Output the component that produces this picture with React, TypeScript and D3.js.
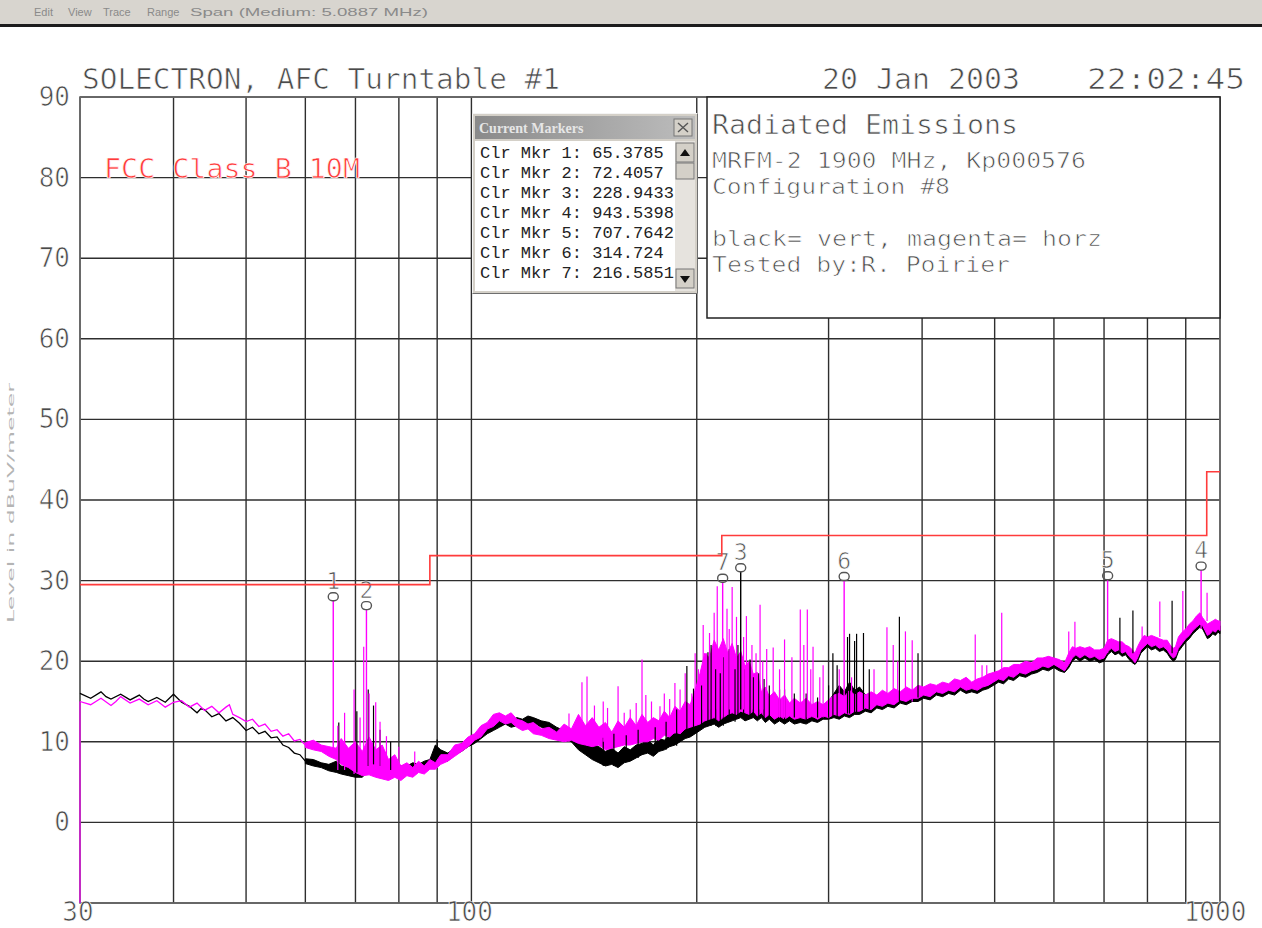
import * as d3 from "d3";

// ---- axes ----
const FREQ_GRID = [30, 40, 50, 60, 70, 80, 90, 100, 200, 300, 400, 500, 600, 700, 800, 900, 1000];
const DB_GRID = [-10, 0, 10, 20, 30, 40, 50, 60, 70, 80, 90];
const Y_LABELS = [0, 10, 20, 30, 40, 50, 60, 70, 80, 90];
const X_LABELS = [30, 100, 1000];

// ---- FCC Class B 10m limit (MHz edges, dBuV/m) ----
const LIMIT_EDGES = [30, 88, 216, 960, 1000];
const LIMIT_LEVELS = [29.5, 33.1, 35.6, 43.5, 43.5];

// ---- vertical polarisation (black) ----
const VERT_LOW: number[][] = [
  [30, 16.0], [31, 15.4], [32, 16.2], [32.5, 15.6], [33, 15.3], [34, 15.9], [35, 15.2], [36, 15.8],
  [36.5, 15.3], [37, 15.0], [38, 15.5], [39, 14.9], [40, 15.9], [40.5, 15.4], [41, 14.9], [42, 14.4],
  [43, 13.6], [43.5, 14.1], [44, 14.0], [45, 13.1], [46, 13.5], [47, 12.6], [48, 13.0], [49, 12.3],
  [50, 11.4], [51, 11.8], [52, 11.0], [53, 11.3], [54, 10.5], [55, 10.6], [56, 9.6], [57, 9.3],
  [58, 8.6], [59, 8.4], [60, 7.6],
];
// [MHz, low dB, high dB] of the noise band
const VERT_BAND: number[][] = [
  [60, 7.3, 7.9], [61.5, 7.0, 7.8], [63, 6.8, 7.4], [64.5, 6.4, 7.2], [66, 6.2, 7.6], [67, 6.0, 7.0],
  [68.5, 5.8, 6.8], [70, 5.6, 6.6], [71.5, 5.6, 8.4], [73, 6.6, 9.8], [74.5, 6.4, 8.6], [76, 6.8, 8.2],
  [77.5, 6.2, 7.6], [79, 6.4, 7.2], [80.5, 6.0, 7.0], [82, 6.4, 7.0], [83.5, 6.0, 7.4], [85, 6.6, 7.2],
  [86.5, 6.4, 7.6], [88, 7.0, 7.8], [89.5, 7.4, 9.6], [91, 7.8, 9.0], [93, 7.6, 8.6], [95, 8.4, 9.2],
  [97, 8.8, 9.8], [99, 9.4, 10.4], [101, 9.8, 10.8], [103, 10.4, 11.4], [105, 11.0, 12.0],
  [107, 11.4, 12.6], [109, 11.8, 12.8], [111, 12.2, 13.0], [113, 11.8, 12.6], [115, 12.0, 13.0],
  [117, 11.6, 12.8], [119, 12.2, 13.2], [121, 12.4, 13.0], [124, 11.8, 12.6], [127, 11.4, 12.4],
  [130, 11.0, 11.8], [133, 10.6, 11.4], [136, 10.0, 11.2], [139, 9.0, 10.6], [142, 8.4, 10.2],
  [145, 7.8, 9.8], [148, 7.4, 9.4], [151, 7.0, 8.8], [154, 7.2, 9.2], [157, 6.8, 8.6], [160, 7.4, 9.4],
  [163, 7.6, 9.0], [166, 8.0, 9.6], [169, 8.4, 9.8], [172, 8.6, 10.2], [175, 8.2, 9.6], [178, 8.8, 10.4],
  [181, 9.0, 10.2], [184, 9.4, 10.8], [187, 9.6, 11.2], [190, 10.0, 11.4], [193, 10.4, 12.0],
  [196, 10.6, 12.8], [199, 11.0, 13.6], [202, 11.4, 16.0], [205, 11.8, 17.8], [208, 12.0, 17.0],
  [211, 12.2, 18.8], [214, 11.8, 17.4], [217, 12.2, 19.0], [220, 12.4, 17.2], [223, 12.6, 18.6],
  [226, 12.8, 17.0], [229, 13.0, 19.2], [232, 12.6, 16.6], [235, 12.8, 17.6], [238, 13.0, 15.8],
  [241, 12.6, 16.4], [244, 13.0, 14.8], [247, 12.4, 15.4], [250, 12.8, 14.6], [254, 12.2, 15.0],
  [258, 12.6, 14.4], [262, 12.2, 14.8], [266, 12.6, 14.2], [270, 12.2, 14.6], [275, 12.4, 14.0],
  [280, 12.2, 14.6], [285, 12.6, 14.0], [290, 12.4, 14.4], [295, 12.8, 14.2], [300, 12.8, 15.0],
  [305, 13.0, 16.0], [310, 12.8, 17.0], [315, 13.2, 16.2], [320, 13.0, 17.4], [325, 13.4, 16.4],
  [330, 13.4, 16.8], [336, 13.8, 15.8], [342, 13.6, 16.0], [348, 14.2, 15.4], [354, 14.0, 15.8],
  [360, 14.4, 15.6], [367, 14.2, 16.0], [374, 14.8, 15.8], [381, 14.6, 16.2], [388, 15.0, 15.8],
  [395, 15.0, 16.4], [402, 15.4, 16.2], [410, 15.2, 16.6], [418, 15.8, 16.4], [426, 15.6, 16.8],
  [434, 16.0, 16.6], [442, 15.8, 17.2], [450, 16.4, 17.0], [458, 16.0, 17.4], [466, 16.2, 16.8],
  [474, 16.0, 17.2], [482, 16.4, 17.4], [490, 16.6, 17.8], [498, 17.0, 18.0], [506, 17.4, 18.2],
  [514, 17.2, 18.6], [522, 17.8, 18.6], [530, 17.6, 19.0], [540, 18.2, 19.0], [550, 18.0, 19.4],
  [560, 18.4, 19.2], [570, 18.6, 19.8], [580, 19.0, 19.8], [590, 18.8, 20.0], [600, 19.2, 19.8],
  [610, 18.8, 19.6], [620, 18.6, 19.4], [628, 19.2, 20.4], [635, 20.0, 21.2], [642, 20.4, 21.0],
  [650, 20.0, 21.2], [660, 20.4, 21.0], [670, 20.0, 21.2], [680, 20.2, 20.8], [690, 19.8, 20.8],
  [700, 20.0, 21.0], [708, 20.8, 22.0], [716, 21.2, 22.2], [724, 20.8, 22.0], [732, 21.0, 21.8],
  [740, 20.6, 21.8], [748, 20.8, 21.4], [756, 20.2, 21.2], [764, 19.8, 20.8], [770, 19.6, 20.6],
  [776, 20.0, 21.2], [784, 21.0, 22.0], [792, 21.4, 22.6], [800, 21.8, 22.4], [810, 21.4, 22.6],
  [820, 21.6, 22.4], [830, 21.2, 22.2], [840, 21.4, 22.0], [850, 21.0, 22.0], [858, 20.4, 21.4],
  [866, 20.0, 21.0], [872, 20.2, 21.2], [880, 21.2, 22.4], [890, 21.8, 23.0], [900, 22.4, 23.4],
  [910, 22.8, 24.0], [920, 23.4, 24.4], [930, 23.8, 25.0], [940, 24.2, 25.4], [948, 24.0, 24.8],
  [955, 23.4, 24.4], [962, 22.8, 24.0], [970, 23.0, 24.2], [978, 23.4, 24.4], [986, 23.2, 24.6],
  [994, 23.6, 24.4], [1000, 23.4, 24.4],
];
// [MHz, from dB, to dB]
const VERT_SPIKES: number[][] = [
  [66.5, 6.5, 12.4], [70.3, 6.2, 13.8], [72.8, 7.0, 16.5], [74, 7.2, 14.5], [75.5, 7.0, 11.5],
  [78, 6.5, 10.0], [90, 8.0, 10.3], [150, 7.0, 10.5], [155, 7.0, 11.0], [161, 7.5, 10.8],
  [167, 8.0, 11.5], [176, 8.5, 11.8], [182, 9.0, 12.5], [188, 9.5, 14.0], [194, 11.0, 19.4],
  [198, 11.0, 16.6], [203, 12.0, 17.0], [207, 12.0, 21.1], [209, 12.0, 22.0], [212, 12.0, 19.0],
  [215, 12.0, 18.5], [217, 12.0, 20.5], [221, 12.5, 21.5], [225, 12.5, 19.0], [227, 13.0, 22.0],
  [231, 13.0, 19.0], [235.6, 13.0, 20.2], [238, 13.0, 18.0], [242, 13.0, 18.5], [246, 13.0, 17.8],
  [250, 13.0, 17.0], [258, 13.0, 16.5], [262, 12.5, 16.5], [270, 13.0, 16.0], [280, 12.5, 16.0],
  [290, 13.0, 15.5], [300, 13.0, 17.0], [304, 13.0, 21.0], [308, 13.0, 19.5], [318, 13.5, 23.0],
  [320, 13.5, 23.4], [325, 13.5, 22.5], [327, 13.5, 23.4], [334, 14.0, 23.5], [340, 14.0, 19.0],
  [373, 15.0, 25.5], [395, 15.5, 21.0], [735, 21.0, 25.4], [765, 21.0, 26.3], [863, 21.0, 27.5],
];

// ---- horizontal polarisation (magenta) ----
const HORZ_LOW: number[][] = [
  [30, 15.0], [31, 14.6], [32, 15.4], [33, 14.5], [33.5, 15.0], [34, 15.6], [35, 14.8], [36, 15.3],
  [37, 14.6], [38, 15.1], [38.5, 14.7], [39, 14.3], [40, 14.9], [41, 15.1], [42, 14.3], [43, 14.8],
  [44, 13.9], [45, 14.4], [46, 13.6], [47, 14.3], [47.5, 14.6], [48, 13.4], [49, 13.0], [50, 12.5],
  [51, 12.8], [52, 11.9], [53, 12.2], [54, 11.3], [55, 11.5], [56, 10.7], [57, 11.0], [58, 10.1],
  [59, 10.3], [60, 9.6],
];
const HORZ_BAND: number[][] = [
  [60, 9.3, 9.9], [61.5, 9.0, 10.2], [63, 8.8, 9.6], [64.5, 8.2, 9.4], [66, 7.8, 9.2], [67, 7.2, 10.4],
  [68.5, 6.8, 9.2], [70, 6.2, 10.0], [71.5, 5.8, 8.8], [73, 5.9, 10.6], [74.5, 5.6, 9.0], [76, 5.4, 9.6],
  [77.5, 5.2, 7.8], [79, 5.6, 8.4], [80.5, 5.2, 7.0], [82, 5.8, 7.4], [83.5, 5.6, 6.8], [85, 6.2, 7.6],
  [86.5, 6.0, 7.0], [88, 6.6, 7.8], [89.5, 6.6, 7.4], [91, 7.2, 8.4], [93, 7.6, 8.4], [95, 8.2, 9.6],
  [97, 8.8, 9.8], [99, 9.4, 10.6], [101, 10.2, 11.0], [103, 10.6, 12.0], [105, 11.6, 12.4],
  [107, 11.9, 13.4], [109, 12.6, 13.6], [111, 12.2, 13.2], [113, 12.4, 13.6], [115, 11.8, 12.8],
  [117, 11.4, 12.6], [119, 11.6, 12.2], [121, 11.0, 12.4], [124, 10.8, 11.6], [127, 10.4, 11.8],
  [130, 10.2, 11.2], [133, 10.0, 12.2], [136, 10.2, 11.6], [139, 9.8, 13.4], [142, 9.6, 12.0],
  [145, 9.4, 13.0], [148, 9.6, 11.8], [151, 9.0, 12.4], [154, 9.2, 11.2], [157, 9.4, 12.6],
  [160, 9.6, 11.8], [163, 9.6, 13.0], [166, 9.8, 12.0], [169, 10.0, 13.4], [172, 10.0, 12.4],
  [175, 10.4, 13.0], [178, 10.2, 12.6], [181, 10.8, 13.8], [184, 10.6, 13.0], [187, 11.2, 14.4],
  [190, 11.0, 13.8], [193, 11.6, 15.0], [196, 11.8, 14.6], [199, 12.0, 16.4], [202, 12.2, 18.5],
  [205, 12.6, 21.0], [208, 12.8, 20.4], [211, 13.0, 22.6], [214, 12.6, 21.4], [217, 13.0, 22.8],
  [220, 13.4, 21.0], [223, 13.6, 22.2], [226, 13.4, 20.4], [229, 13.8, 21.2], [232, 13.6, 19.4],
  [235, 13.4, 20.0], [238, 13.8, 18.4], [241, 13.2, 18.6], [244, 13.6, 16.2], [247, 13.0, 16.8],
  [250, 13.4, 15.6], [254, 12.8, 16.2], [258, 13.2, 15.2], [262, 12.8, 15.8], [266, 13.2, 14.8],
  [270, 12.8, 15.4], [275, 13.0, 14.8], [280, 12.8, 15.4], [285, 13.2, 14.6], [290, 12.8, 15.0],
  [295, 13.2, 14.6], [300, 13.0, 15.2], [305, 13.4, 15.8], [310, 13.2, 16.0], [315, 13.6, 15.6],
  [320, 13.4, 16.4], [325, 13.8, 15.8], [330, 13.8, 16.2], [336, 14.2, 15.8], [342, 14.0, 16.2],
  [348, 14.6, 15.8], [354, 14.4, 16.4], [360, 14.8, 16.0], [367, 14.6, 16.6], [374, 15.2, 16.2],
  [381, 15.0, 16.8], [388, 15.4, 16.4], [395, 15.4, 17.0], [402, 15.8, 16.8], [410, 15.6, 17.2],
  [418, 16.2, 17.0], [426, 16.0, 17.4], [434, 16.4, 17.2], [442, 16.2, 17.8], [450, 16.8, 17.6],
  [458, 16.4, 18.0], [466, 16.6, 17.4], [474, 16.4, 17.8], [482, 16.8, 18.0], [490, 17.0, 18.4],
  [498, 17.4, 18.6], [506, 17.8, 18.8], [514, 17.6, 19.2], [522, 18.2, 19.2], [530, 18.0, 19.6],
  [540, 18.6, 19.6], [550, 18.4, 20.0], [560, 18.8, 19.8], [570, 19.0, 20.4], [580, 19.4, 20.4],
  [590, 19.2, 20.6], [600, 19.6, 20.4], [610, 19.2, 20.2], [620, 18.8, 19.8], [628, 19.6, 21.0],
  [635, 20.4, 21.8], [642, 20.8, 21.6], [650, 20.4, 21.8], [660, 20.8, 21.6], [670, 20.4, 21.8],
  [680, 20.6, 21.4], [690, 20.2, 21.4], [700, 20.4, 21.6], [708, 21.2, 22.6], [716, 21.6, 22.8],
  [724, 21.2, 22.6], [732, 21.4, 22.4], [740, 21.0, 22.4], [748, 21.2, 22.0], [756, 20.6, 21.8],
  [764, 20.2, 21.4], [770, 19.8, 21.0], [776, 20.4, 21.8], [784, 21.4, 22.6], [792, 21.8, 23.2],
  [800, 22.2, 23.0], [810, 21.8, 23.2], [820, 22.0, 23.0], [830, 21.6, 22.8], [840, 21.8, 22.6],
  [850, 21.4, 22.6], [858, 20.8, 22.0], [866, 20.4, 21.6], [872, 20.6, 21.8], [880, 21.6, 23.0],
  [890, 22.2, 23.6], [900, 22.8, 24.0], [910, 23.2, 24.6], [920, 23.8, 25.0], [930, 24.2, 25.6],
  [940, 24.6, 26.0], [948, 24.4, 25.4], [955, 23.8, 25.0], [962, 23.2, 24.6], [970, 23.4, 24.8],
  [978, 23.8, 25.0], [986, 23.6, 25.2], [994, 24.0, 25.0], [1000, 23.8, 25.0],
];
const HORZ_SPIKES: number[][] = [
  [30, -10, 15.0], [66.3, 6.5, 12.0], [67.7, 6.5, 13.6], [69.7, 6.0, 16.5], [71.0, 6.0, 13.0],
  [71.8, 6.0, 21.8], [73.0, 6.0, 16.0], [74.5, 6.0, 14.9], [75.5, 6.0, 12.5], [77, 5.5, 10.7],
  [80, 5.5, 9.4], [84, 6.0, 8.8], [135, 10.0, 13.5], [140.5, 10.0, 17.4], [142.7, 10.0, 18.1],
  [146, 10.0, 14.5], [150, 10.0, 15.0], [152, 9.5, 14.2], [157, 10.0, 16.9], [160, 9.6, 13.6],
  [163, 10.0, 14.0], [166, 10.0, 14.8], [169, 10.0, 20.2], [171, 10.0, 15.8], [174, 11.0, 15.0],
  [178.6, 11.0, 14.4], [181, 11.0, 16.0], [184, 11.0, 15.3], [187, 11.0, 17.3], [190, 11.0, 16.5],
  [193, 12.0, 18.5], [197, 12.0, 16.0], [199, 12.0, 21.0], [201, 14.0, 19.0], [204, 14.0, 24.5],
  [206, 14.0, 21.0], [208, 14.0, 23.5], [211, 14.0, 26.0], [213, 14.0, 29.3], [219.5, 14.0, 26.5],
  [221, 14.0, 24.0], [223, 14.0, 29.2], [226, 14.0, 25.5], [231, 14.0, 23.0], [233, 14.0, 25.6],
  [237, 14.0, 22.0], [240, 14.0, 21.0], [243, 14.0, 27.0], [245, 14.0, 20.0], [248, 14.0, 21.5],
  [253, 13.0, 21.7], [258, 13.0, 19.0], [262, 13.0, 22.7], [268, 13.0, 20.5], [275, 13.0, 26.4],
  [278, 13.0, 22.0], [281, 13.0, 26.4], [284, 13.0, 19.0], [286, 13.0, 21.8], [292, 13.0, 18.0],
  [295, 13.0, 19.5], [310, 14.0, 19.0], [322, 14.0, 18.0], [345, 15.0, 19.0], [359, 15.0, 24.2],
  [366, 15.0, 22.0], [371, 15.0, 20.0], [380, 15.0, 23.7], [388, 15.0, 22.6], [471, 17.0, 23.3],
  [481, 17.0, 19.5], [488, 17.0, 19.5], [511, 18.0, 26.0], [628, 20.0, 23.7], [640, 21.0, 24.9],
  [787, 22.0, 24.3], [831, 23.0, 27.4], [892, 23.0, 28.7], [961, 25.0, 28.5],
];

// ---- marker list (id, MHz, peak dB, trace floor dB, trace) ----
const MARKER_IDS = [1, 2, 3, 4, 5, 6, 7];
const MARKER_FREQ = [65.3785, 72.4057, 228.9433, 943.5398, 707.7642, 314.724, 216.5851];
const MARKER_PEAK = [28.0, 26.9, 31.6, 31.8, 30.6, 30.5, 30.3];
const MARKER_FLOOR = [8.0, 6.5, 14.0, 24.0, 21.0, 14.0, 13.0];
const MARKER_TRACE = ["horz", "horz", "vert", "horz", "horz", "horz", "horz"];

const INFO_LINES = [
  "Radiated Emissions",
  "MRFM-2 1900 MHz, Kp000576",
  "Configuration #8",
  "black= vert, magenta= horz",
  "Tested by:R. Poirier",
];

const MENU = ["Edit", "View", "Trace", "Range", "Span (Medium: 5.0887 MHz)"];

const MONO = "'DejaVu Sans Mono', monospace";
const INK = "#4a4a4a";
const MAGENTA = "#ff00ff";

// thin the glyph strokes a little so they read like the plotter font
const thin = { stroke: "#fff", strokeWidth: 0.7, paintOrder: "normal" } as const;

export default function App() {
  const x = d3.scaleLog().domain([30, 1000]).range([80, 1220]);
  const y = d3.scaleLinear().domain([-10, 90]).range([903, 97]);

  const line = d3.line<number[]>().x((d) => x(d[0])).y((d) => y(d[1]));
  const band = d3
    .area<number[]>()
    .x((d) => x(d[0]))
    .y0((d) => y(d[1]))
    .y1((d) => y(d[2]));
  const limit = d3
    .line<number>()
    .x((_, i) => x(LIMIT_EDGES[i]))
    .y((d) => y(d))
    .curve(d3.curveStepAfter);

  const colorOf = (t: string) => (t === "vert" ? "#000" : MAGENTA);

  const menuX = [34, 68, 103, 147, 190];
  const infoY = [134, 168, 194, 246, 272];
  const infoW = [306, 374, 238, 390, 298];

  return (
    <svg
      width={1262}
      height={928}
      style={{ position: "absolute", left: 0, top: 0, background: "#fff" }}
    >
      <defs>
        <linearGradient id="tbar" x1="0" x2="1" y1="0" y2="0">
          <stop offset="0" stopColor="#8a8a8a" />
          <stop offset="1" stopColor="#bdbdbd" />
        </linearGradient>
      </defs>
      <rect width={1262} height={928} fill="#fff" />

      {/* menu strip */}
      <rect x={0} y={0} width={1262} height={24} fill="#d8d5cf" />
      <rect x={0} y={24} width={1262} height={3} fill="#1c1c1c" />
      {MENU.map((m, i) => (
        <text
          key={m}
          x={menuX[i]}
          y={16}
          fontFamily="'Liberation Sans', sans-serif"
          fontSize={11}
          fill="#8a8a8a"
          {...(i === 4 ? { textLength: 238, lengthAdjust: "spacingAndGlyphs" } : {})}
        >
          {m}
        </text>
      ))}

      {/* grid */}
      {FREQ_GRID.map((f) => (
        <line key={"vx" + f} x1={x(f)} x2={x(f)} y1={y(90)} y2={y(-10)} stroke="#2e2e2e" strokeWidth={1.4} />
      ))}
      {DB_GRID.map((v) => (
        <line key={"hy" + v} x1={x(30)} x2={x(1000)} y1={y(v)} y2={y(v)} stroke="#2e2e2e" strokeWidth={1.4} />
      ))}
      <rect
        x={x(30)}
        y={y(90)}
        width={x(1000) - x(30)}
        height={y(-10) - y(90)}
        fill="none"
        stroke="#6a6a6a"
        strokeWidth={1.6}
      />

      {/* traces */}
      <path d={line(VERT_LOW)!} fill="none" stroke="#000" strokeWidth={1.3} />
      <path d={band(VERT_BAND)!} fill="#000" stroke="#000" strokeWidth={1} />
      <path d={line(HORZ_LOW)!} fill="none" stroke={MAGENTA} strokeWidth={1.3} />
      <path d={band(HORZ_BAND)!} fill={MAGENTA} stroke={MAGENTA} strokeWidth={1} />
      {VERT_SPIKES.map((s, i) => (
        <line key={"vs" + i} x1={x(s[0])} x2={x(s[0])} y1={y(s[1])} y2={y(s[2])} stroke="#000" strokeWidth={1.2} />
      ))}
      {HORZ_SPIKES.map((s, i) => (
        <line key={"hs" + i} x1={x(s[0])} x2={x(s[0])} y1={y(s[1])} y2={y(s[2])} stroke={MAGENTA} strokeWidth={1.2} />
      ))}

      {/* markers */}
      {MARKER_IDS.map((id, i) => {
        const mx = x(MARKER_FREQ[i]);
        const my = y(MARKER_PEAK[i]);
        return (
          <g key={"m" + id}>
            <line
              x1={mx}
              x2={mx}
              y1={y(MARKER_FLOOR[i])}
              y2={my + 4}
              stroke={colorOf(MARKER_TRACE[i])}
              strokeWidth={1.4}
            />
            <rect x={mx - 5} y={my - 4} width={10} height={8} rx={4} fill="none" stroke="#555" strokeWidth={1.4} />
            <text x={mx} y={my - 8} textAnchor="middle" fontFamily={MONO} fontSize={23} fill="#555" {...thin}>
              {id}
            </text>
          </g>
        );
      })}

      {/* limit line */}
      <path d={limit(LIMIT_LEVELS)!} fill="none" stroke="#ff3b3b" strokeWidth={1.6} />
      <text
        x={104}
        y={178}
        fontFamily={MONO}
        fontSize={26}
        fill="#ff3b3b"
        textLength={256}
        lengthAdjust="spacingAndGlyphs"
        {...thin}
      >
        FCC Class B 10M
      </text>

      {/* axis labels */}
      {Y_LABELS.map((v) => (
        <text
          key={"yl" + v}
          x={70}
          y={y(v) + 9}
          textAnchor="end"
          fontFamily={MONO}
          fontSize={26}
          fill={INK}
          {...thin}
        >
          {v}
        </text>
      ))}
      {X_LABELS.map((f) => (
        <text
          key={"xl" + f}
          x={x(f) - (f === 1000 ? 5 : 2)}
          y={921}
          textAnchor="middle"
          fontFamily={MONO}
          fontSize={26}
          fill={INK}
          {...thin}
        >
          {f}
        </text>
      ))}
      <text
        transform="translate(14,503) rotate(-90)"
        textAnchor="middle"
        fontFamily="'DejaVu Sans', sans-serif"
        fontSize={8}
        fill="#b4b4b4"
        textLength={240}
        lengthAdjust="spacingAndGlyphs"
      >
        Level in dBuV/meter
      </text>

      {/* header */}
      <text x={82} y={89} fontFamily={MONO} fontSize={28} fill={INK} textLength={478} lengthAdjust="spacingAndGlyphs" {...thin}>
        SOLECTRON, AFC Turntable #1
      </text>
      <text x={822} y={89} fontFamily={MONO} fontSize={28} fill={INK} textLength={198} lengthAdjust="spacingAndGlyphs" {...thin}>
        20 Jan 2003
      </text>
      <text x={1087} y={89} fontFamily={MONO} fontSize={28} fill={INK} textLength={158} lengthAdjust="spacingAndGlyphs" {...thin}>
        22:02:45
      </text>

      {/* info box */}
      <rect x={707} y={97} width={513} height={221} fill="#fff" stroke="#222" strokeWidth={1.5} />
      {INFO_LINES.map((t, i) => (
        <text
          key={t}
          x={712}
          y={infoY[i]}
          fontFamily={MONO}
          fontSize={i === 0 ? 27 : 21}
          fill={INK}
          textLength={infoW[i]}
          lengthAdjust="spacingAndGlyphs"
          {...thin}
        >
          {t}
        </text>
      ))}

      {/* current markers window */}
      <g>
        <rect x={472} y={113} width={226} height={181} fill="#d4d0c8" />
        <path d="M472.5,293.5 V113.5 H697.5" fill="none" stroke="#f4f4f4" strokeWidth={1} />
        <path d="M472.5,293.5 H697.5 V113.5" fill="none" stroke="#6e6e6e" strokeWidth={1} />
        <rect x={475} y={116} width={220} height={23} fill="url(#tbar)" />
        <text x={479} y={133} fontFamily="'Liberation Serif', serif" fontSize={14} fontWeight="bold" fill="#e6e6e6">
          Current Markers
        </text>
        <rect x={674} y={119} width={18} height={17} fill="#d4d0c8" stroke="#777" />
        <path d="M678,123 L688,132 M688,123 L678,132" stroke="#555" strokeWidth={1.4} />
        <rect x={475} y={141} width={200} height={150} fill="#fff" />
        <rect x={675} y={141} width={20} height={150} fill="#e6e3de" />
        <rect x={676} y={143} width={18} height={19} fill="#d4d0c8" stroke="#777" />
        <path d="M680,156 L685,149 L690,156 Z" fill="#111" />
        <rect x={676} y={163} width={18} height={16} fill="#d4d0c8" stroke="#777" />
        <rect x={676} y={269} width={18} height={19} fill="#d4d0c8" stroke="#777" />
        <path d="M680,276 L685,283 L690,276 Z" fill="#111" />
        {MARKER_IDS.map((id, i) => (
          <text
            key={"cm" + id}
            x={480}
            y={158 + i * 20}
            fontFamily="'Liberation Mono', monospace"
            fontSize={17}
            fill="#222"
          >
            {`Clr Mkr ${id}: ${MARKER_FREQ[i]}`}
          </text>
        ))}
      </g>
    </svg>
  );
}
